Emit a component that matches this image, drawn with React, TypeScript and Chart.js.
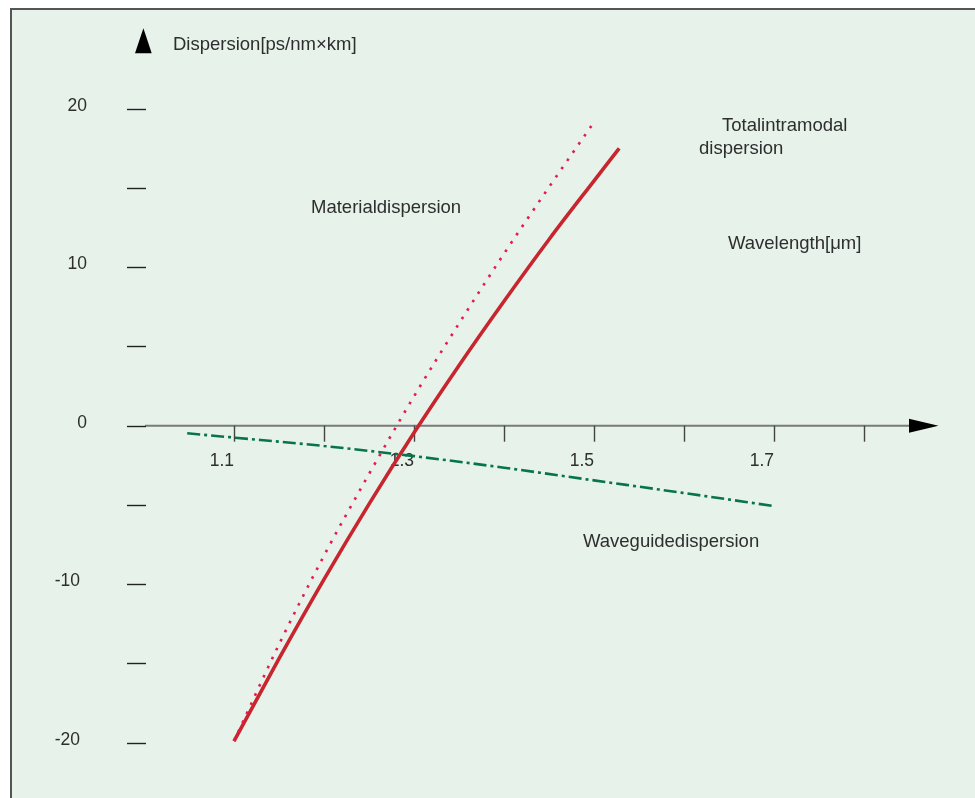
import React, { useEffect, useRef } from "react";
import { Chart, registerables } from "chart.js";

Chart.register(...registerables);

// ---- data ----
const totalWavelength = [1.1, 1.15, 1.2, 1.25, 1.3, 1.35, 1.4, 1.45, 1.5, 1.528];
const totalDispersion = [-19.9, -14.7, -9.7, -4.95, -0.45, 3.8, 7.85, 11.75, 15.45, 17.5];

const materialWavelength = [1.1, 1.15, 1.2, 1.25, 1.3, 1.35, 1.4, 1.45, 1.5];
const materialDispersion = [-19.9, -13.8, -8.2, -3.05, 1.85, 6.45, 10.85, 15.05, 19.15];

const waveguideWavelength = [1.048, 1.1, 1.2, 1.3, 1.4, 1.5, 1.6, 1.7];
const waveguideDispersion = [-0.48, -0.75, -1.28, -1.92, -2.65, -3.45, -4.25, -5.07];

const yTickValues = [-20, -15, -10, -5, 0, 5, 10, 15, 20];
const yTickLabels = ["-20", "-10", "0", "10", "20"];
const xTickValues = [1.1, 1.2, 1.3, 1.4, 1.5, 1.6, 1.7, 1.8];
const xTickLabels = ["1.1", "1.3", "1.5", "1.7"];

const yAxisTitle = "Dispersion[ps/nm×km]";
const xAxisTitle = "Wavelength[μm]";
const materialLabel = "Materialdispersion";
const waveguideLabel = "Waveguidedispersion";
const totalLabelLines = ["Totalintramodal", "dispersion"];

const W = 975;
const H = 798;
const FONT = '"Liberation Sans", Arial, sans-serif';
const TEXT = "#2e2e2e";
const BG = "rgb(231,242,234)";

const toPoints = (xs: number[], ys: number[]) => xs.map((x, i) => ({ x, y: ys[i] }));

const decorPlugin = {
  id: "decor",
  beforeDraw(chart: any) {
    const ctx = chart.ctx;
    ctx.save();
    ctx.fillStyle = "#fff";
    ctx.fillRect(0, 0, W, H);
    ctx.fillStyle = BG;
    ctx.fillRect(10, 8, W - 10, H - 8);
    ctx.strokeStyle = "#555";
    ctx.lineWidth = 2;
    ctx.beginPath();
    ctx.moveTo(11, H);
    ctx.lineTo(11, 9);
    ctx.lineTo(W, 9);
    ctx.stroke();
    ctx.restore();
  },
  beforeDatasetsDraw(chart: any) {
    const ctx = chart.ctx;
    const xs = chart.scales.x;
    const ys = chart.scales.y;
    const y0 = ys.getPixelForValue(0);
    ctx.save();

    // x axis line
    ctx.strokeStyle = "#7a7a7a";
    ctx.lineWidth = 2;
    ctx.beginPath();
    ctx.moveTo(chart.chartArea.left + 1, y0);
    ctx.lineTo(912, y0);
    ctx.stroke();

    // x arrow
    ctx.fillStyle = "#000";
    ctx.beginPath();
    ctx.moveTo(909, y0 - 7);
    ctx.lineTo(938.5, y0);
    ctx.lineTo(909, y0 + 7);
    ctx.closePath();
    ctx.fill();

    // y arrow
    ctx.beginPath();
    ctx.moveTo(143.4, 28.3);
    ctx.lineTo(151.7, 53.3);
    ctx.lineTo(135, 53.3);
    ctx.closePath();
    ctx.fill();

    // y tick marks
    ctx.strokeStyle = "#222";
    ctx.lineWidth = 1.4;
    yTickValues.forEach((v) => {
      const py = Math.round(ys.getPixelForValue(v)) + 0.5;
      ctx.beginPath();
      ctx.moveTo(127, py);
      ctx.lineTo(146, py);
      ctx.stroke();
    });

    // x tick marks
    ctx.strokeStyle = "#444";
    ctx.lineWidth = 1.4;
    xTickValues.forEach((v) => {
      const px = Math.round(xs.getPixelForValue(v)) + 0.5;
      ctx.beginPath();
      ctx.moveTo(px, y0);
      ctx.lineTo(px, y0 + 16);
      ctx.stroke();
    });

    // tick labels
    ctx.fillStyle = TEXT;
    ctx.font = `17.5px ${FONT}`;
    ctx.textBaseline = "middle";
    ctx.textAlign = "right";
    yTickLabels.forEach((t) => {
      const v = parseFloat(t);
      const py = ys.getPixelForValue(v) - 3;
      ctx.fillText(t, v < 0 ? 80 : 87, py);
    });
    xTickLabels.forEach((t) => {
      const px = xs.getPixelForValue(parseFloat(t));
      ctx.fillText(t, px, y0 + 35);
    });

    // annotations
    ctx.font = `18.5px ${FONT}`;
    ctx.textAlign = "left";
    ctx.textBaseline = "alphabetic";
    ctx.fillText(yAxisTitle, 173, 49.5);
    ctx.fillText(materialLabel, 311, 212.5);
    ctx.fillText(totalLabelLines[0], 722, 131);
    ctx.fillText(totalLabelLines[1], 699, 153.5);
    ctx.fillText(xAxisTitle, 728, 248.5);
    ctx.fillText(waveguideLabel, 583, 547);

    ctx.restore();
  },
};

export default function App() {
  const ref = useRef<HTMLCanvasElement>(null);

  useEffect(() => {
    if (!ref.current) return;
    const chart = new Chart(ref.current, {
      type: "line",
      data: {
        datasets: [
          {
            label: "Waveguide",
            data: toPoints(waveguideWavelength, waveguideDispersion),
            borderColor: "#08744a",
            borderWidth: 2.6,
            borderDash: [13, 4, 3, 4],
            pointRadius: 0,
            cubicInterpolationMode: "monotone",
            fill: false,
          },
          {
            label: "Material",
            data: toPoints(materialWavelength, materialDispersion),
            borderColor: "#e8194b",
            borderWidth: 2.6,
            borderDash: [2.6, 7.4],
            borderCapStyle: "butt",
            pointRadius: 0,
            cubicInterpolationMode: "monotone",
            fill: false,
          },
          {
            label: "Total",
            data: toPoints(totalWavelength, totalDispersion),
            borderColor: "#c8262e",
            borderWidth: 3.6,
            pointRadius: 0,
            cubicInterpolationMode: "monotone",
            fill: false,
          },
        ],
      } as any,
      options: {
        responsive: false,
        animation: false,
        devicePixelRatio: 1,
        events: [],
        layout: { padding: { left: 144, right: 21, top: 45.3, bottom: 23.6 } },
        plugins: { legend: { display: false }, tooltip: { enabled: false }, title: { display: false } },
        scales: {
          x: { type: "linear", min: 1.0, max: 1.9, display: false },
          y: { type: "linear", min: -22, max: 24, display: false },
        },
      } as any,
      plugins: [decorPlugin],
    });
    return () => chart.destroy();
  }, []);

  return (
    <div style={{ position: "fixed", left: 0, top: 0, width: W, height: H, background: "#fff" }}>
      <canvas ref={ref} width={W} height={H} style={{ display: "block", width: W, height: H }} />
    </div>
  );
}
